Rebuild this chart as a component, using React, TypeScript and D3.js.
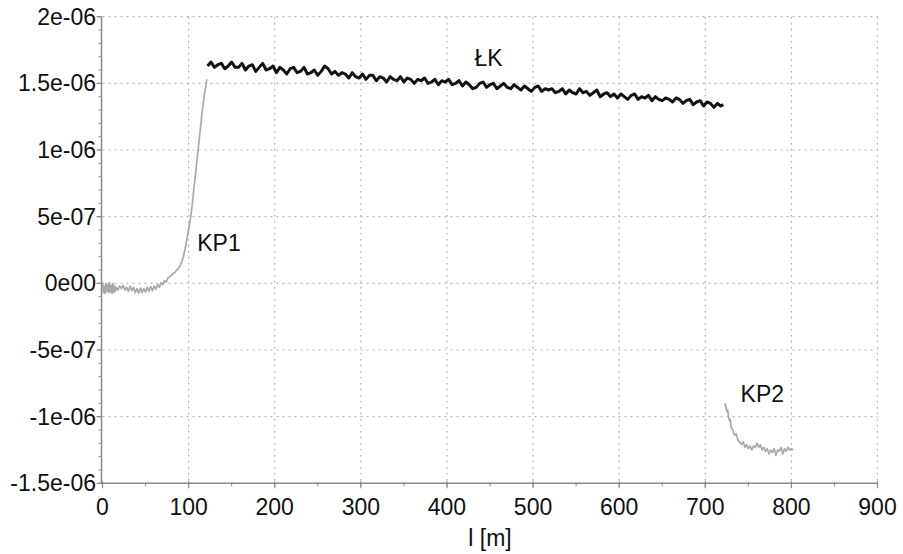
import React from "react";
import * as d3 from "d3";

// Distance along the line in metres
const kp1X = [
  0, 1, 2, 3, 4, 5, 6, 7, 8, 9, 10, 11, 12, 13, 14, 15,
  16, 18, 20, 22, 24, 26, 28, 30, 32, 34, 36, 38, 40, 42, 44, 46, 48, 50,
  52, 54, 56, 58, 60, 62, 64, 66, 68, 70, 72, 74, 76, 78, 80, 82, 84, 86,
  88, 90, 92, 94, 96, 98, 100, 102, 104, 106, 108, 110, 112, 114, 116, 118,
  120, 121,
];
// Values in units of 1e-7
const kp1Y = [
  0.1, -0.7, -0.2, -0.75, 0, -0.6, -0.1, -0.7, 0.05, -0.65, -0.15, -0.75, 0, -0.7, -0.2, -0.6,
  -0.3, -0.5, -0.2, -0.4, -0.15, -0.5, -0.3, -0.6, -0.2, -0.55, -0.3, -0.7, -0.4, -0.75, -0.35, -0.7, -0.4, -0.65,
  -0.3, -0.6, -0.25, -0.55, -0.2, -0.45, -0.1, -0.3, 0.05, -0.1, 0.2, 0.1, 0.4, 0.5, 0.6, 0.75, 0.8, 1.0,
  1.1, 1.3, 1.6, 2.0, 2.6, 3.3, 4.0, 4.8, 5.8, 7.0, 8.2, 9.4, 10.6, 11.8, 13.0, 14.0,
  14.8, 15.3,
];

// ŁK sampled every 4 m from 122 m, last sample at 721 m (units of 1e-7)
const lkStart = 122;
const lkStep = 4;
const lkY = [
  16.3, 16.6, 16.2, 16.4, 16.5, 16.1, 16.3, 16.6, 16.2, 16.2,
  16.5, 16.0, 16.3, 16.4, 15.9, 16.2, 16.5, 16.0, 16.1, 16.3,
  15.8, 16.2, 16.0, 15.7, 16.1, 16.2, 15.8, 15.9, 16.2, 15.7,
  15.8, 16.0, 15.6, 15.9, 16.3, 16.1, 15.7, 15.9, 15.6, 15.8,
  15.7, 15.4, 15.8, 15.5, 15.4, 15.7, 15.3, 15.6, 15.6, 15.2,
  15.5, 15.4, 15.1, 15.5, 15.3, 15.2, 15.5, 15.1, 15.4, 15.3,
  15.0, 15.3, 15.2, 15.4, 15.0, 15.1, 15.3, 14.9, 15.2, 15.1,
  15.3, 14.9, 15.0, 15.2, 14.8, 15.1, 14.9, 14.6, 14.7, 15.0,
  15.1, 14.7, 14.9, 15.0, 14.6, 14.8, 15.0, 14.7, 14.6, 14.9,
  14.7, 14.5, 14.8, 14.6, 14.4, 14.7, 14.8, 14.4, 14.6, 14.5,
  14.6, 14.3, 14.4, 14.6, 14.2, 14.5, 14.3, 14.2, 14.6, 14.3,
  14.4, 14.1, 14.3, 14.5, 14.0, 14.2, 14.3, 14.0, 14.2, 13.9,
  14.2, 14.0, 13.8, 14.1, 14.2, 13.8, 14.0, 13.9, 14.1, 13.7,
  14.0, 13.8, 13.7, 13.9, 13.8, 13.6, 13.9, 13.8, 13.5, 13.7,
  13.8, 13.4, 13.6, 13.7, 13.3, 13.6, 13.5, 13.2, 13.5, 13.3,
];
const lkLastX = 721;
const lkLastY = 13.4;

const kp2X = [
  723, 724, 725, 726, 727, 728, 729, 730, 732, 734, 736, 738, 740, 742, 744, 746,
  748, 750, 752, 754, 756, 758, 760, 762, 764, 766, 768, 770, 772, 774, 776, 778,
  780, 782, 784, 786, 788, 790, 792, 794, 796, 798, 800, 802,
];
const kp2Y = [
  -9.0, -9.3, -9.6, -9.5, -10.0, -10.3, -10.2, -10.8, -11.0, -11.4, -11.3, -11.8, -11.9, -12.1, -11.9, -12.3,
  -12.1, -12.4, -12.2, -12.5, -12.2, -12.3, -12.0, -12.3, -12.1, -12.5, -12.3, -12.6, -12.4, -12.8, -12.5, -12.7,
  -12.4, -12.9, -12.5, -12.6, -12.3, -12.8, -12.4, -12.6, -12.3, -12.5, -12.4, -12.5,
];

const xTicks = [0, 100, 200, 300, 400, 500, 600, 700, 800, 900];
const yTicks = [2e-6, 1.5e-6, 1e-6, 5e-7, 0, -5e-7, -1e-6, -1.5e-6];
const yTickLabels = ["2e-06", "1.5e-06", "1e-06", "5e-07", "0e00", "-5e-07", "-1e-06", "-1.5e-06"];

const labels = [
  { text: "ŁK", x: 432, y: 1.63e-6 },
  { text: "KP1", x: 110, y: 0.245e-6 },
  { text: "KP2", x: 741, y: -0.89e-6 },
];

const FONT = "'Liberation Sans', Arial, sans-serif";
const FS = 23;

export default function App() {
  const x = d3.scaleLinear().domain([0, 900]).range([102.5, 877.5]);
  const y = d3.scaleLinear().domain([-1.5e-6, 2e-6]).range([483.3, 16.7]);

  const toPts = (xs: number[], ys: number[]) => xs.map((v, i) => [v, ys[i] * 1e-7] as [number, number]);
  const kp1 = toPts(kp1X, kp1Y);
  const lk = lkY.map((v, i) => [lkStart + i * lkStep, v * 1e-7] as [number, number]);
  lk.push([lkLastX, lkLastY * 1e-7]);
  const kp2 = toPts(kp2X, kp2Y);

  const line = d3
    .line<[number, number]>()
    .x((d) => x(d[0]))
    .y((d) => y(d[1]));

  const [x0, x1] = x.range();
  const [yb, yt] = y.range();
  const gridColor = "#b8b8b8";
  const axisColor = "#8a8a8a";

  const yMinor = d3.range(-15, 21).map((k) => k * 1e-7);
  const xMinor = d3.range(0, 901, 50);

  return (
    <svg
      width={903}
      height={554}
      style={{ position: "absolute", left: 0, top: 0, background: "#fff" }}
      fontFamily={FONT}
    >
      <rect width={903} height={554} fill="#fff" />
      {/* grid */}
      {xTicks.filter((t) => t !== 0).map((t) => (
        <line key={"gx" + t} x1={x(t)} x2={x(t)} y1={yt} y2={yb} stroke={gridColor} strokeWidth={1.2} strokeDasharray="2,4" />
      ))}
      {yTicks.filter((t) => t !== -1.5e-6).map((t) => (
        <line key={"gy" + t} x1={x0} x2={x1} y1={y(t)} y2={y(t)} stroke={gridColor} strokeWidth={1.2} strokeDasharray="2,4" />
      ))}

      {/* axes */}
      <line x1={x0 - 1} x2={x0 - 1} y1={yt} y2={yb} stroke={axisColor} strokeWidth={1.5} />
      <line x1={x0 - 1} x2={x1} y1={yb} y2={yb} stroke={axisColor} strokeWidth={1.5} />
      {yMinor.map((t, i) => (
        <line key={"ym" + i} x1={x0 - 4} x2={x0 - 1} y1={y(t)} y2={y(t)} stroke={axisColor} strokeWidth={1} />
      ))}
      {yTicks.map((t) => (
        <line key={"yt" + t} x1={x0 - 6} x2={x0 - 1} y1={y(t)} y2={y(t)} stroke={axisColor} strokeWidth={1.2} />
      ))}
      {xMinor.map((t) => (
        <line key={"xm" + t} x1={x(t)} x2={x(t)} y1={yb - 1} y2={yb + 3} stroke={axisColor} strokeWidth={1} />
      ))}
      {xTicks.map((t) => (
        <line key={"xt" + t} x1={x(t)} x2={x(t)} y1={yb - 2} y2={yb + 5} stroke={axisColor} strokeWidth={1.2} />
      ))}

      {/* tick labels */}
      {yTicks.map((t, i) => (
        <text key={"yl" + t} x={96} y={y(t) + 8} textAnchor="end" fontSize={FS} fill="#111">
          {yTickLabels[i]}
        </text>
      ))}
      {xTicks.map((t) => (
        <text key={"xl" + t} x={x(t)} y={515} textAnchor="middle" fontSize={FS} fill="#111">
          {t}
        </text>
      ))}
      <text x={490} y={546} textAnchor="middle" fontSize={FS} fill="#111">
        l [m]
      </text>

      {/* series */}
      <path d={line(kp1) ?? ""} fill="none" stroke="#a9a9a9" strokeWidth={1.7} strokeLinejoin="round" />
      <path d={line(kp2) ?? ""} fill="none" stroke="#a9a9a9" strokeWidth={1.7} strokeLinejoin="round" />
      <path d={line(lk) ?? ""} fill="none" stroke="#111" strokeWidth={3} strokeLinejoin="round" />

      {labels.map((l) => (
        <text key={l.text} x={x(l.x)} y={y(l.y)} fontSize={FS} fill="#111">
          {l.text}
        </text>
      ))}
    </svg>
  );
}
